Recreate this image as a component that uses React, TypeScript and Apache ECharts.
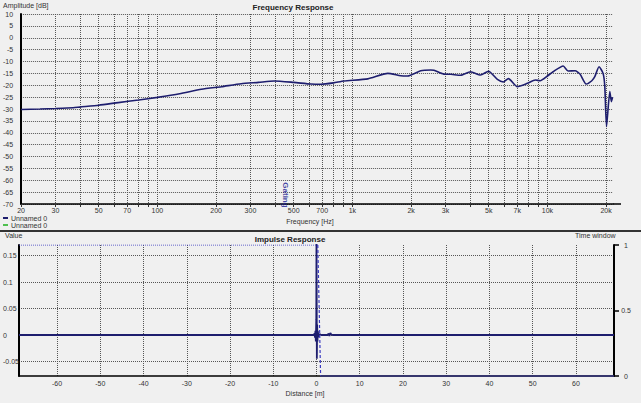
import React, { useEffect, useRef } from "react";
import * as echarts from "echarts";

// ---------- Frequency response data ----------
const FREQ_HZ = [
  20, 25, 30, 37, 40, 50, 63, 80, 100, 130, 168, 213, 269, 330, 397, 500, 614, 690, 800, 905,
  1200, 1519, 1770, 1920, 2240, 2520, 2620, 2937, 3200, 3584, 4036, 4540, 4987, 5540, 5944,
  6310, 7012, 7890, 8670, 9180, 10000, 10700, 12050, 12770, 13870, 14700, 15800, 16900, 17500,
  18400, 19300, 19700, 20100, 20900, 21300, 21600,
];
const AMP_DB = [
  -30.2, -30.0, -29.8, -29.5, -29.2, -28.4, -27.3, -26.2, -25.1, -23.6, -21.7, -20.6, -19.4,
  -18.8, -18.2, -18.8, -19.5, -19.6, -19.0, -18.2, -17.3, -15.0, -16.0, -16.1, -13.9, -13.6,
  -13.7, -15.3, -15.4, -15.8, -14.3, -15.7, -14.1, -17.5, -18.6, -17.2, -20.6, -19.2, -17.8,
  -18.1, -16.1, -14.3, -11.9, -14.0, -13.9, -15.3, -19.5, -18.1, -16.4, -12.2, -15.0, -20.6,
  -37.4, -22.7, -26.9, -25.0,
];
const FREQ_GRID = [
  20, 30, 40, 50, 60, 70, 80, 90, 100, 200, 300, 400, 500, 600, 700, 800, 900, 1000, 2000, 3000,
  4000, 5000, 6000, 7000, 8000, 9000, 10000, 20000,
];
const FREQ_LABELS = [20, 30, 50, 70, 100, 200, 300, 500, 700, 1000, 2000, 3000, 5000, 7000, 10000, 20000];
const GATING_FREQ = 452;

// ---------- Impulse response data ----------
const IMP_DIST = [
  -68.8, -0.6, -0.45, -0.35, -0.25, -0.15, -0.05, 0.0, 0.08, 0.15, 0.22, 0.3, 0.45, 0.7, 1.1, 2.6,
  2.8, 3.0, 3.2, 3.4, 3.7, 68.8,
];
const IMP_VAL = [
  0, 0, 0.003, -0.005, 0.008, -0.012, 0.03, 0.2, -0.045, 0.02, -0.012, 0.008, -0.004, 0.002, 0,
  0, 0.003, -0.002, 0.004, 0.001, 0, 0,
];
const WIN_TOP = [[-68.8, 1], [0.3, 1]];
const WIN_EDGE = [[0.3, 1], [0.95, 0]];
const WIN_BOTTOM = [[0.95, 0], [68.8, 0]];
const DIST_TICKS = [-60, -50, -40, -30, -20, -10, 0, 10, 20, 30, 40, 50, 60];
const VALUE_TICKS = [-0.05, 0, 0.05, 0.1, 0.15];
const WINDOW_TICKS = [0, 0.5, 1];

const FONT = "'Liberation Sans Narrow', 'Liberation Sans', Arial, sans-serif";
const NAVY = "#1e1e6e";
const GRID_DOT = { type: [1, 1] as any, color: "#555", width: 1 };

function fmtFreq(v: number) {
  const f = Math.round(Math.pow(10, v));
  return f >= 1000 ? f / 1000 + "k" : String(f);
}

export default function App() {
  const ref = useRef<HTMLDivElement>(null);
  useEffect(() => {
    if (!ref.current) return;
    const chart = echarts.init(ref.current, null, { renderer: "svg" });
    const labelStyle = { fontSize: 7, color: "#333", fontFamily: FONT };
    chart.setOption({
      animation: false,
      backgroundColor: "#f0f0f0",
      grid: [
        { left: 19, top: 14, width: 594, height: 190 },
        { left: 19, top: 245, width: 595, height: 131 },
      ],
      xAxis: [
        {
          gridIndex: 0,
          type: "value",
          min: Math.log10(20),
          max: Math.log10(21700),
          axisLine: { onZero: false, lineStyle: { color: "#000", width: 1.5 } },
          axisTick: { show: true, customValues: FREQ_GRID.map((f) => Math.log10(f)), length: 3, lineStyle: { color: "#333" } },
          axisLabel: { ...labelStyle, customValues: FREQ_LABELS.map((f) => Math.log10(f)), formatter: fmtFreq, margin: 3 },
          splitLine: { show: true, lineStyle: GRID_DOT },
        },
        {
          gridIndex: 1,
          type: "value",
          min: -68.8,
          max: 68.8,
          axisLine: { onZero: false, lineStyle: { color: "#000", width: 1.5 } },
          axisTick: { show: false, customValues: DIST_TICKS },
          axisLabel: { ...labelStyle, customValues: DIST_TICKS, margin: 4 },
          splitLine: { show: true, lineStyle: GRID_DOT },
        },
      ],
      yAxis: [
        {
          gridIndex: 0,
          type: "value",
          min: -70,
          max: 10,
          interval: 5,
          axisLine: { show: true, onZero: false, lineStyle: { color: "#000", width: 2 } },
          axisTick: { show: false },
          axisLabel: { ...labelStyle, margin: 8 },
          splitLine: { show: true, lineStyle: GRID_DOT },
        },
        {
          gridIndex: 1,
          type: "value",
          min: -0.0774,
          max: 0.17,
          axisLine: { show: true, onZero: false, lineStyle: { color: "#000", width: 2 } },
          axisTick: { show: false, customValues: VALUE_TICKS },
          axisLabel: { ...labelStyle, customValues: VALUE_TICKS, align: "left", margin: 16, overflow: "none" },
          splitLine: { show: true, lineStyle: GRID_DOT },
        },
        {
          gridIndex: 1,
          type: "value",
          position: "right",
          min: 0,
          max: 1,
          axisLine: { show: true, onZero: false, lineStyle: { color: "#000", width: 2 } },
          axisTick: { show: true, customValues: WINDOW_TICKS, length: 5, lineStyle: { color: "#000", width: 1.5 } },
          axisLabel: { ...labelStyle, customValues: WINDOW_TICKS, align: "center", margin: 12 },
          splitLine: { show: false },
        },
      ],
      series: [
        {
          name: "Unnamed 0",
          type: "line",
          xAxisIndex: 0,
          yAxisIndex: 0,
          data: FREQ_HZ.map((f, i) => [Math.log10(f), AMP_DB[i]]),
          showSymbol: false,
          smooth: 0.2,
          lineStyle: { color: NAVY, width: 1.6 },
        },
        {
          name: "gating",
          type: "scatter",
          xAxisIndex: 0,
          yAxisIndex: 0,
          data: [[Math.log10(GATING_FREQ), -66.2]],
          symbolSize: 0,
          label: {
            show: true,
            position: "inside",
            formatter: "Gating",
            rotate: -90,
            fontSize: 8,
            fontWeight: "bold",
            color: "#1a1a90",
            textBorderWidth: 0,
            fontFamily: FONT,
          },
        },
        {
          name: "impulse",
          type: "line",
          xAxisIndex: 1,
          yAxisIndex: 1,
          data: IMP_DIST.map((d, i) => [d, IMP_VAL[i]]),
          showSymbol: false,
          lineStyle: { color: NAVY, width: 1.8 },
        },
        {
          name: "windowTop",
          type: "line",
          xAxisIndex: 1,
          yAxisIndex: 2,
          data: WIN_TOP,
          showSymbol: false,
          lineStyle: { color: "#3a3ac0", width: 1, type: [1, 1] },
        },
        {
          name: "windowEdge",
          type: "line",
          xAxisIndex: 1,
          yAxisIndex: 2,
          data: WIN_EDGE,
          showSymbol: false,
          lineStyle: { color: "#3a3ac0", width: 1.2, type: [3, 2] },
        },
        {
          name: "windowBottom",
          type: "line",
          xAxisIndex: 1,
          yAxisIndex: 2,
          data: WIN_BOTTOM,
          showSymbol: false,
          clip: false,
          lineStyle: { color: "#34347e", width: 1.6 },
        },
      ],
      graphic: [
        { type: "text", left: 3, top: 2, style: { text: "Amplitude [dB]", fontSize: 7, fill: "#333", fontFamily: FONT } },
        { type: "text", x: 293, y: 3, style: { text: "Frequency Response", fontSize: 8, fontWeight: "bold", fill: "#222", fontFamily: FONT, textAlign: "center" } },
        { type: "text", x: 310, y: 218, style: { text: "Frequency [Hz]", fontSize: 7, fill: "#333", fontFamily: FONT, textAlign: "center" } },
        { type: "line", shape: { x1: 613, y1: 204, x2: 621, y2: 204 }, style: { stroke: "#000", lineWidth: 1.5 } },
        { type: "line", shape: { x1: 3, y1: 218, x2: 8, y2: 218 }, style: { stroke: NAVY, lineWidth: 2 } },
        { type: "text", x: 11, y: 215, style: { text: "Unnamed 0", fontSize: 7, fill: "#333", fontFamily: FONT } },
        { type: "line", shape: { x1: 3, y1: 225, x2: 8, y2: 225 }, style: { stroke: "#50c050", lineWidth: 2 } },
        { type: "text", x: 11, y: 222, style: { text: "Unnamed 0", fontSize: 7, fill: "#333", fontFamily: FONT } },
        { type: "line", shape: { x1: 0, y1: 231, x2: 641, y2: 231 }, style: { stroke: "#333", lineWidth: 2 } },
        { type: "text", x: 5, y: 232, style: { text: "Value", fontSize: 7, fill: "#333", fontFamily: FONT } },
        { type: "text", x: 290, y: 235, style: { text: "Impulse Response", fontSize: 8, fontWeight: "bold", fill: "#222", fontFamily: FONT, textAlign: "center" } },
        { type: "text", x: 575, y: 232, style: { text: "Time window", fontSize: 7, fill: "#333", fontFamily: FONT } },
        { type: "text", x: 305, y: 390, style: { text: "Distance [m]", fontSize: 7, fill: "#333", fontFamily: FONT, textAlign: "center" } },
      ],
    });
    return () => chart.dispose();
  }, []);
  return (
    <div
      ref={ref}
      style={{ position: "absolute", left: 0, top: 0, width: 641, height: 403 }}
    />
  );
}
